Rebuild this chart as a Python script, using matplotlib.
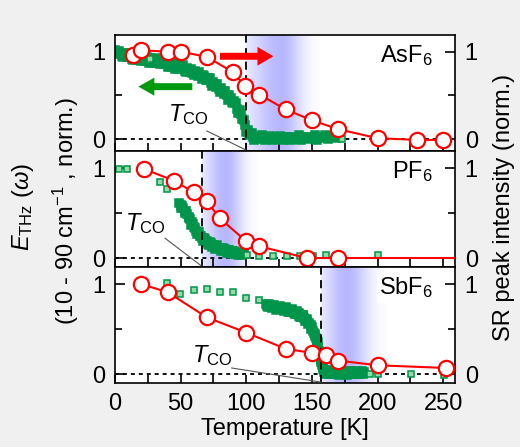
import numpy as np
import matplotlib
matplotlib.use('Agg')
import matplotlib.pyplot as plt
from matplotlib.ticker import MultipleLocator, FixedLocator

plt.rcParams['font.family'] = ['Liberation Sans', 'DejaVu Sans']
plt.rcParams['mathtext.fontset'] = 'custom'
plt.rcParams['mathtext.rm'] = 'Liberation Sans'
plt.rcParams['mathtext.it'] = 'Liberation Sans:italic'
plt.rcParams['mathtext.bf'] = 'Liberation Sans:bold'

# ---------------- data ----------------
salts = ['AsF$_6$', 'PF$_6$', 'SbF$_6$']
t_co = [100, 66, 157]

# transition window (start, centre, end) of the shaded band, in K
shade_start = [100, 66, 157]
shade_peak = [127, 84, 177]
shade_end = [156, 108, 207]

# SR peak intensity (norm.)
sr_T_as = [14, 20, 40, 50, 70, 90, 99, 110, 130, 150, 170, 200, 230, 250]
sr_I_as = [0.966, 1.015, 1.00, 1.00, 0.94, 0.765, 0.606, 0.51, 0.34, 0.216,
           0.114, 0.011, -0.008, -0.008]
sr_T_pf = [22, 45, 60, 70, 80, 100, 110, 146, 170, 300]
sr_I_pf = [0.99, 0.86, 0.73, 0.63, 0.44, 0.185, 0.13, 0.0, 0.0, 0.0]
sr_T_sb = [20, 40, 70, 100, 130, 150, 161, 170, 200, 252, 300]
sr_I_sb = [1.0, 0.91, 0.63, 0.46, 0.28, 0.235, 0.216, 0.149, 0.097, 0.067, 0.06]

# THz field amplitude, 10 - 90 cm^-1 (norm.): continuous sweeps
sweep_T_as = [0, 1, 2, 3, 4, 5, 6, 7, 8, 9, 10, 11, 12, 13, 14, 15, 16, 17, 18,
              19, 20, 21, 22, 23, 24, 25, 26, 27, 28, 29, 30, 31, 32, 33, 34,
              35, 36, 37, 38, 39, 40, 41, 42, 43, 44, 45, 46, 47, 48, 49, 50,
              51, 52, 53, 54, 55, 56, 57, 58, 59, 60, 61, 62, 63, 64, 65, 66,
              67, 68, 69, 70, 71, 72, 73, 74, 75, 76, 77, 78, 79, 80, 81, 82,
              83, 84, 85, 86, 87, 88, 89, 90, 91, 92, 93, 94, 95, 96, 97, 98,
              99, 100, 101, 102, 103, 104, 105, 106, 108, 110, 112, 114, 116,
              118, 120, 122, 124, 126, 128, 130, 132, 134, 136, 138, 140, 142,
              144, 146, 148, 150, 152, 154, 156, 158, 160, 162, 164, 166, 168]
sweep_E_as = [1.02, 0.99, 0.97, 1.01, 0.99, 0.955, 0.94, 0.99, 0.98, 0.935,
              0.94, 0.97, 0.975, 0.92, 0.905, 0.955, 0.94, 0.91, 0.95, 0.93,
              0.89, 0.935, 0.92, 0.895, 0.94, 0.91, 0.875, 0.925, 0.915, 0.875,
              0.89, 0.915, 0.925, 0.87, 0.86, 0.905, 0.885, 0.855, 0.895, 0.87,
              0.83, 0.875, 0.86, 0.82, 0.875, 0.845, 0.80, 0.85, 0.845, 0.80,
              0.81, 0.84, 0.845, 0.78, 0.765, 0.815, 0.795, 0.765, 0.80, 0.76,
              0.73, 0.775, 0.76, 0.72, 0.765, 0.735, 0.685, 0.735, 0.725, 0.68,
              0.68, 0.70, 0.70, 0.64, 0.61, 0.655, 0.63, 0.595, 0.625, 0.575,
              0.54, 0.58, 0.555, 0.515, 0.55, 0.50, 0.45, 0.50, 0.475, 0.425,
              0.41, 0.44, 0.415, 0.35, 0.295, 0.33, 0.29, 0.235, 0.215, 0.16,
              0.08, 0.11, 0.07, 0.045, 0.07, 0.02, -0.01, 0.035, 0.0, 0.045,
              -0.015, 0.02, 0.035, -0.01, 0.02, 0.0, 0.04, -0.015, 0.025, 0.03,
              -0.01, 0.02, 0.0, 0.045, -0.01, 0.025, 0.03, 0.0, 0.02, 0.045,
              -0.005, 0.03, 0.015, 0.045, 0.005, 0.03, 0.04, 0.01]
sweep_T_pf = [49, 50, 50.5, 51, 52, 53, 53.5, 54, 55, 56, 56.5, 57, 58, 59,
              59.5, 60, 61, 62, 62.5, 63, 64, 65, 65.5, 66, 67, 68, 68.5, 69,
              70, 71, 71.5, 72, 73, 74, 74.5, 75, 76, 77, 77.5, 78, 79, 80,
              80.5, 81, 82, 83, 83.5, 84, 85, 86, 86.5, 87, 88, 89, 89.5, 90,
              91, 92, 92.5, 93, 94, 95, 95.5, 96, 97, 98]
sweep_E_pf = [0.61, 0.585, 0.56, 0.58, 0.555, 0.525, 0.50, 0.52, 0.49, 0.455,
              0.445, 0.43, 0.37, 0.395, 0.38, 0.345, 0.335, 0.30, 0.265, 0.29,
              0.285, 0.245, 0.24, 0.225, 0.19, 0.22, 0.215, 0.18, 0.185, 0.16,
              0.14, 0.175, 0.17, 0.125, 0.145, 0.15, 0.105, 0.135, 0.14, 0.11,
              0.115, 0.10, 0.08, 0.115, 0.11, 0.075, 0.09, 0.095, 0.055, 0.09,
              0.09, 0.06, 0.07, 0.075, 0.04, 0.065, 0.075, 0.045, 0.055, 0.07,
              0.03, 0.055, 0.06, 0.035, 0.045, 0.05]
sweep_T_sb = [115, 116, 116.5, 117, 118, 119, 119.5, 120, 121, 122, 122.5,
              123, 124, 125, 125.5, 126, 127, 128, 128.5, 129, 130, 131, 131.5,
              132, 133, 134, 134.5, 135, 136, 137, 137.5, 138, 139, 140, 140.5,
              141, 142, 143, 143.5, 144, 145, 146, 146.5, 147, 148, 149, 149.5,
              150, 151, 151.5, 152, 152.5, 153, 153.5, 154, 154.5, 155, 155.5,
              156, 156.4, 156.8, 157.2, 157.5, 157.9, 158.2, 158.6, 159, 159.5,
              160, 161, 161.5, 162, 163, 164, 164.5, 165, 166, 167, 167.5, 168,
              169, 170, 170.5, 171, 172, 173, 173.5, 174, 175, 176, 176.5, 177,
              178, 179, 179.5, 180, 181, 182, 182.5, 183, 184, 185, 185.5, 186,
              187, 188, 188.5, 189, 190]
sweep_E_sb = [0.78, 0.76, 0.745, 0.775, 0.765, 0.74, 0.73, 0.76, 0.77, 0.75,
              0.74, 0.715, 0.72, 0.745, 0.76, 0.73, 0.735, 0.72, 0.705, 0.735,
              0.745, 0.72, 0.71, 0.685, 0.69, 0.715, 0.725, 0.70, 0.68, 0.665,
              0.665, 0.69, 0.70, 0.675, 0.65, 0.63, 0.635, 0.66, 0.655, 0.62,
              0.595, 0.61, 0.59, 0.555, 0.565, 0.545, 0.50, 0.525, 0.48, 0.46,
              0.42, 0.445, 0.40, 0.37, 0.33, 0.355, 0.30, 0.26, 0.22, 0.245,
              0.16, 0.13, 0.10, 0.12, 0.06, 0.08, 0.02, 0.05, 0.005, 0.03, 0.04,
              0.01, 0.0, 0.035, 0.025, 0.0, -0.005, 0.03, 0.035, 0.005, 0.01,
              0.035, -0.01, 0.015, 0.03, 0.0, 0.0, 0.03, 0.025, 0.0, -0.01,
              0.025, 0.03, 0.0, 0.005, 0.03, 0.02, -0.005, -0.005, 0.025, 0.03,
              0.0, 0.0, 0.02, 0.015, 0.03, 0.01, 0.0, 0.02]

# THz field amplitude: individual measurements
pts_T_as = [26.7, 172.7]
pts_E_as = [0.917, 0.0]
pts_T_pf = [3.3, 9.4, 34.3, 39.4, 100.4, 110, 120, 131, 141, 151, 161, 200.7]
pts_E_pf = [0.99, 0.99, 0.84, 0.77, 0.03, 0.025, 0.025, 0.025, 0.02, 0.02,
            0.03, 0.03]
pts_T_sb = [22.3, 39.4, 49.5, 60, 70.1, 80, 90.2, 99.6, 110, 194.4, 200.7,
            225.4, 250.3]
pts_E_sb = [0.98, 1.01, 0.895, 0.93, 0.95, 0.91, 0.91, 0.85, 0.82, 0.0, 0.0,
            0.0, -0.01]

sr_T = [sr_T_as, sr_T_pf, sr_T_sb]
sr_I = [sr_I_as, sr_I_pf, sr_I_sb]
sweep_T = [sweep_T_as, sweep_T_pf, sweep_T_sb]
sweep_E = [sweep_E_as, sweep_E_pf, sweep_E_sb]
pts_T = [pts_T_as, pts_T_pf, pts_T_sb]
pts_E = [pts_E_as, pts_E_pf, pts_E_sb]

# T_CO label placement (text centre, leader start) per panel
tco_text = [(55.6, 0.28), (22.9, 0.38), (73.7, 0.20)]
tco_lead = [(69.9, 0.094), (38.1, 0.22), (88.9, 0.067)]

ylims = [(-0.135, 1.19), (-0.10, 1.19), (-0.10, 1.19)]

# ---------------- styles ----------------
RED = '#ff0000'
GREEN_EDGE = '#00954a'
GREEN_FILL = '#94dca6'
ARROW_GREEN = '#009a10'
SHADE = np.array([0.72, 0.72, 1.0])
FS = 17

fig = plt.figure(figsize=(5.2, 4.47), dpi=100, facecolor='#f0f0f0')
left, right = 115 / 520, 455 / 520
top, bottom = 1 - 35 / 447, 1 - 383 / 447
h = (top - bottom) / 3

axes = []
for i in range(3):
    ax = fig.add_axes([left, top - (i + 1) * h, right - left, h])
    axes.append(ax)

for i, ax in enumerate(axes):
    y0, y1 = ylims[i]
    ax.set_xlim(0, 259)
    ax.set_ylim(y0, y1)

    # shaded transition window
    tt = np.linspace(shade_start[i], shade_end[i], 300)
    wl = (shade_peak[i] - shade_start[i]) / 1.1
    wr = (shade_end[i] - shade_peak[i]) / 1.9
    w = np.where(tt < shade_peak[i], wl, wr)
    alpha = np.exp(-((tt - shade_peak[i]) / w) ** 2)
    img = np.ones((2, tt.size, 4))
    img[..., :3] = SHADE
    img[..., 3] = alpha[None, :]
    ax.imshow(img, extent=(shade_start[i], shade_end[i], y0, y1),
              aspect='auto', interpolation='bilinear', zorder=0.5)

    # zero reference and T_CO marker
    ax.axhline(0, color='black', lw=1.3, ls=(0, (2.2, 2.2)), zorder=1)
    ax.axvline(t_co[i], color='black', lw=1.3, ls=(0, (4.5, 3)), zorder=3)

    ax.plot(sweep_T[i], sweep_E[i], ls='none', marker='s', ms=5.3, mew=1.1,
            mec=GREEN_EDGE, mfc=GREEN_EDGE, zorder=2)
    ax.plot(pts_T[i], pts_E[i], ls='none', marker='s', ms=4.3, mew=1.1,
            mec=GREEN_EDGE, mfc=GREEN_FILL, zorder=2.1)
    ax.plot(sr_T[i], sr_I[i], color=RED, lw=1.5, marker='o', ms=11,
            mew=1.6, mec=RED, mfc='white', zorder=4)

    ax.text(0.935, 0.82, salts[i], transform=ax.transAxes, ha='right',
            va='center', fontsize=FS, zorder=5,
            bbox=dict(facecolor='white', edgecolor='none', pad=1) if i == 2 else None)

    tx, ty = tco_text[i]
    ax.text(tx, ty, r'$T_{\rm CO}$', ha='center', va='center', fontsize=FS,
            zorder=5)
    lx, ly = tco_lead[i]
    ax.plot([lx, t_co[i]], [ly, y0 + 0.01], color='#555555', lw=0.8, zorder=5)

    ax.yaxis.set_major_locator(FixedLocator([0, 1]))
    ax.yaxis.set_minor_locator(FixedLocator([0.5]))
    ax.xaxis.set_major_locator(MultipleLocator(50))
    ax.xaxis.set_minor_locator(MultipleLocator(25))
    ax.tick_params(which='both', direction='in', left=True, right=True,
                   top=False, bottom=True, labelleft=True, labelright=True,
                   labelsize=FS, width=1.2, pad=7)
    ax.tick_params(which='major', axis='y', length=7)
    ax.tick_params(which='minor', axis='y', length=5)
    ax.tick_params(which='both', axis='x', length=6)
    ax.tick_params(axis='x', labelbottom=(i == 2))
    for s in ax.spines.values():
        s.set_linewidth(1.2)

# direction arrows in the top panel
axes[0].annotate('', xy=(120.7, 0.947), xytext=(80.0, 0.947),
                 arrowprops=dict(arrowstyle='simple,head_length=11.5,head_width=13.5,tail_width=5',
                                 mutation_scale=1, color=RED, lw=0,
                                 shrinkA=0, shrinkB=0), zorder=6)
axes[0].annotate('', xy=(17.8, 0.60), xytext=(58.9, 0.60),
                 arrowprops=dict(arrowstyle='simple,head_length=11.5,head_width=13,tail_width=5',
                                 mutation_scale=1, color=ARROW_GREEN, lw=0,
                                 shrinkA=0, shrinkB=0), zorder=6)

axes[2].set_xlabel('Temperature [K]', fontsize=FS, labelpad=2)

fig.text(23 / 520, 1 - 207 / 447, r'$E_{\rm THz}\ (\omega)$', rotation=90,
         ha='center', va='center', fontsize=FS)
fig.text(66 / 520, 1 - 211 / 447, r'(10 - 90 cm$^{-1}$ , norm.)', rotation=90,
         ha='center', va='center', fontsize=FS)
fig.text(504 / 520, 1 - 207 / 447, 'SR peak intensity (norm.)', rotation=90,
         ha='center', va='center', fontsize=FS)

fig.savefig('out.png', dpi=100, facecolor=fig.get_facecolor())
